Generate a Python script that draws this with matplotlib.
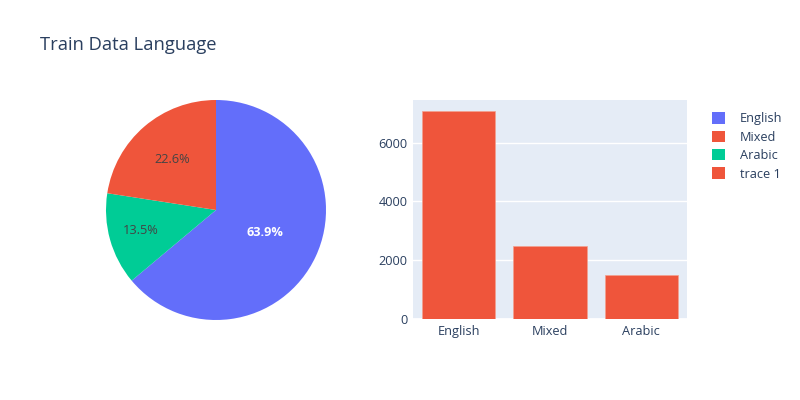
import matplotlib
matplotlib.use("Agg")
import matplotlib.pyplot as plt
from matplotlib.patches import Patch
import numpy as np

# Data
pie_labels = ["English", "Arabic", "Mixed"]
pie_values = [7080, 1500, 2500]
pie_colors = ["#636EFA", "#00CC96", "#EF553B"]

bar_categories = ["English", "Mixed", "Arabic"]
bar_values = [7080, 2500, 1500]
bar_color = "#EF553B"

legend_labels = ["English", "Mixed", "Arabic", "trace 1"]
legend_colors = ["#636EFA", "#EF553B", "#00CC96", "#EF553B"]

yticks = [0, 2000, 4000, 6000]

text_color = "#2a3f5f"
plt.rcParams["font.family"] = ["Open Sans", "DejaVu Sans"]

W, H = 800, 400
fig = plt.figure(figsize=(8, 4), dpi=100)

def ax_px(x0, y0, x1, y1):
    return [x0 / W, 1 - y1 / H, (x1 - x0) / W, (y1 - y0) / H]

# Title
fig.text(40 / W, 1 - 45 / H, "Train Data Language", fontsize=13.2, color=text_color,
         va="center", ha="left")

# Pie
axp = fig.add_axes(ax_px(106, 100, 326, 320))
wedges, texts, autotexts = axp.pie(pie_values, colors=pie_colors, startangle=90,
                                   counterclock=False, autopct="%1.1f%%",
                                   pctdistance=0.6,
                                   wedgeprops=dict(linewidth=0))
axp.set_xlim(-1, 1)
axp.set_ylim(-1, 1)
axp.set_aspect("equal")
dists = [0.49, 0.71, 0.61]
total = sum(pie_values)
ang = 90.0
for i, (v, at) in enumerate(zip(pie_values, autotexts)):
    span = v / total * 360
    mid = np.deg2rad(ang - span / 2)
    ang -= span
    at.set_position((dists[i] * np.cos(mid), dists[i] * np.sin(mid)))
    at.set_fontsize(9.2)
    at.set_color("white" if i == 0 else "#444444")
    if i == 0:
        at.set_fontweight("bold")

# Bar
axb = fig.add_axes(ax_px(413, 100, 687, 319))
axb.set_facecolor("#E5ECF6")
x = np.arange(len(bar_categories))
axb.bar(x, bar_values, width=0.8, color=bar_color, edgecolor="#f3a08f", linewidth=0.5, zorder=3)
axb.set_xlim(-0.5, len(bar_categories) - 0.5)
axb.set_ylim(0, max(bar_values) * 1.053)
axb.set_yticks(yticks)
axb.set_yticklabels([str(t) for t in yticks])
axb.set_xticks(x)
axb.set_xticklabels(bar_categories)
axb.grid(axis="y", color="white", linewidth=1, zorder=0)
axb.axhline(0, color="white", linewidth=2, zorder=1)
for s in axb.spines.values():
    s.set_visible(False)
axb.tick_params(length=0, colors=text_color, labelsize=9.2, pad=4)

# Legend
handles = [Patch(facecolor=c, edgecolor="none") for c in legend_colors]
leg = fig.legend(handles, legend_labels, loc="upper left",
                 bbox_to_anchor=(707 / W, 1 - 107 / H), frameon=False,
                 fontsize=9.2, handlelength=1.0, handleheight=1.0,
                 handletextpad=1.2, labelspacing=0.42, borderaxespad=0)
for t in leg.get_texts():
    t.set_color(text_color)

fig.savefig("out.png", dpi=100)
